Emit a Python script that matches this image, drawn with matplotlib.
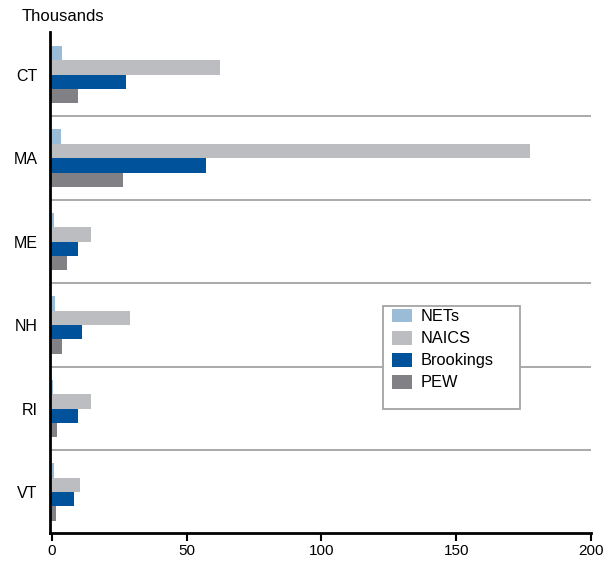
import numpy as np
import matplotlib.pyplot as plt
from matplotlib.patches import Patch, Rectangle

plt.rcParams['font.family'] = ['Liberation Sans', 'DejaVu Sans']

states = ["CT", "MA", "ME", "NH", "RI", "VT"]
series = ["NETs", "NAICS", "Brookings", "PEW"]
nets = [3.7, 3.3, 0.9, 1.2, 0.3, 0.8]
naics = [62.5, 177.5, 14.4, 29, 14.5, 10.4]
brookings = [27.3, 57.3, 9.5, 11.1, 9.6, 8.2]
pew = [9.8, 26.3, 5.5, 3.7, 2.0, 1.7]
colors = ["#9bbcd6", "#bcbdc1", "#00539b", "#808085"]

fig = plt.figure(figsize=(6.1, 5.66), dpi=100)
ax = fig.add_axes([0.082, 0.0583, 0.887, 0.885])

x0 = -0.7  # bars start at the spine, just left of zero
y = np.arange(len(states))
h = 0.172
for i, (vals, c) in enumerate(zip([nets, naics, brookings, pew], colors)):
    ax.barh(y + (i - 1.5) * h, np.array(vals) - x0, height=h, color=c, left=x0, zorder=2)

for k in range(len(states) - 1):
    ax.axhline(k + 0.5, color="#a4a4a4", lw=1.3, zorder=1)

ax.set_xlim(x0, 200)
ax.set_ylim(5.49, -0.51)
ax.set_yticks(y)
ax.set_yticklabels(states, fontsize=11.5)
ax.tick_params(axis='y', length=0, pad=9)
ax.set_xticks([0, 50, 100, 150, 200])
ax.tick_params(axis='x', direction='out', length=6, width=1.5, labelsize=11, pad=2)
for s in ["top", "right"]:
    ax.spines[s].set_visible(False)
ax.spines["left"].set_linewidth(2)
ax.spines["bottom"].set_linewidth(2)

# legend box drawn by hand so the wide right margin matches
frame = Rectangle((0.6155, 0.2475), 0.253, 0.2056, transform=ax.transAxes,
                  facecolor="white", edgecolor="#a4a4a4", lw=1.3, zorder=4)
ax.add_patch(frame)
handles = [Patch(facecolor=c, edgecolor='none') for c in colors]
leg = ax.legend(handles, series, loc='upper left', bbox_to_anchor=(0.632, 0.448),
                borderaxespad=0, borderpad=0, frameon=False,
                fontsize=11.8, handlelength=1.25, handleheight=0.92, handletextpad=0.5,
                labelspacing=0.4)
leg.set_zorder(5)

fig.text(0.036, 0.97, "Thousands", fontsize=12, va='center', ha='left')

fig.savefig("out.png", dpi=100)
